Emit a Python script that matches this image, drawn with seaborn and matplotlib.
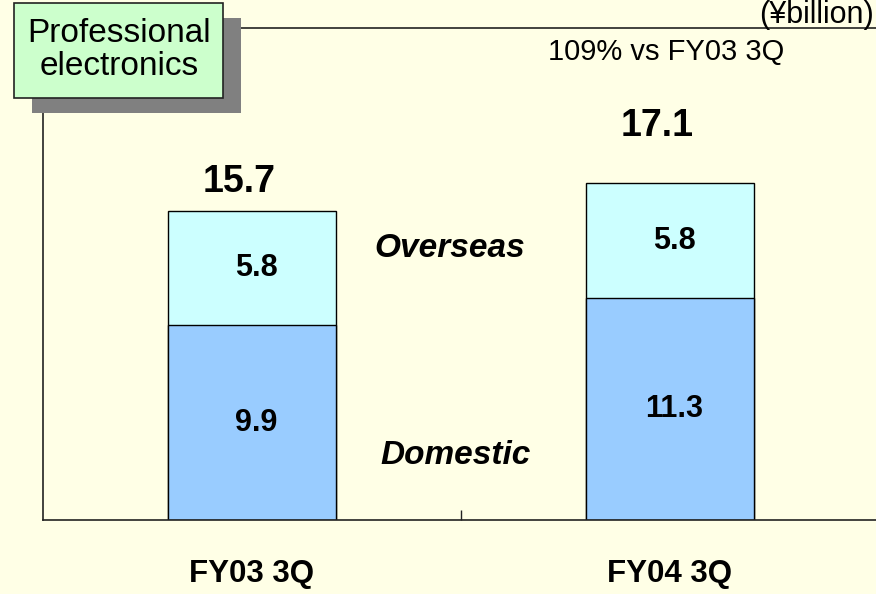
import numpy as np
import pandas as pd
import matplotlib
matplotlib.use("Agg")
import matplotlib.pyplot as plt
from matplotlib.patches import Rectangle
import seaborn as sns

# data
categories = ["FY03 3Q", "FY04 3Q"]
domestic = [9.9, 11.3]
overseas = [5.8, 5.8]
totals = [15.7, 17.1]
total_labels = ["15.7", "17.1"]
growth_note = "109% vs FY03 3Q"
unit_label = "(¥billion)"

sns.set_style("white")
plt.rcParams["font.family"] = ["Liberation Sans", "DejaVu Sans"]
plt.rcParams["text.color"] = "black"
plt.rcParams["xtick.color"] = "black"
plt.rcParams["xtick.labelcolor"] = "black"

bg = "#FFFFE6"
c_dom = "#99CCFF"
c_ovs = "#CCFFFF"

df = pd.DataFrame({"cat": categories, "dom": domestic, "ovs": overseas, "tot": totals})

fig = plt.figure(figsize=(8.76, 5.94), dpi=100, facecolor=bg)
ax = fig.add_axes([43/876, 74/594, 836/876, 492/594])
ax.set_facecolor(bg)

# total bar first (overseas colour), domestic on top of it
sns.barplot(data=df, x="cat", y="tot", color=c_ovs, width=0.4, edgecolor="black",
            linewidth=1.0, saturation=1, ax=ax)
sns.barplot(data=df, x="cat", y="dom", color=c_dom, width=0.4, edgecolor="black",
            linewidth=1.0, saturation=1, ax=ax)

ax.set_xlim(-0.5, 1.5)
ax.set_ylim(0, 25)
ax.set_xlabel("")
ax.set_ylabel("")
ax.set_yticks([])
ax.tick_params(axis="x", which="major", length=0, pad=28)
ax.set_xticks([0.5], minor=True)
ax.tick_params(axis="x", which="minor", bottom=True, direction="in", length=7,
               width=1, color="#222222")
for lab in ax.get_xticklabels():
    lab.set_fontsize(22.5)
    lab.set_fontweight("bold")

for s in ["left", "bottom", "top"]:
    ax.spines[s].set_color("#222222")
    ax.spines[s].set_linewidth(1.2)
ax.spines["right"].set_visible(False)

# labels inside segments
for i in range(len(categories)):
    ax.text(i + 0.01, domestic[i] / 2, f"{domestic[i]:.1f}", ha="center", va="center",
            fontsize=22, fontweight="bold")
    ax.text(i + 0.01, domestic[i] + overseas[i] / 2, f"{overseas[i]:.1f}", ha="center",
            va="center", fontsize=22, fontweight="bold")

# total labels (placed by hand in the original)
tot_offsets = [1.5, 2.9]
tot_dx = [-0.03, -0.03]
for i in range(len(categories)):
    ax.text(i + tot_dx[i], totals[i] + tot_offsets[i], total_labels[i], ha="center",
            va="center", fontsize=27, fontweight="bold")

ax.text(0.474, 13.8, "Overseas", ha="center", va="center", fontsize=24,
        fontweight="bold", style="italic")
ax.text(0.486, 3.3, "Domestic", ha="center", va="center", fontsize=24,
        fontweight="bold", style="italic")
ax.text(0.99, 23.8, growth_note, ha="center", va="center", fontsize=21)

fig.text(874/876, 1.0, unit_label, ha="right", va="top", fontsize=22)

# title box with shadow
shadow = Rectangle((32/876, 1 - 113/594), 209/876, 95/594, transform=fig.transFigure,
                   facecolor="#808080", edgecolor="none", zorder=5)
box = Rectangle((14/876, 1 - 98/594), 209/876, 95/594, transform=fig.transFigure,
                facecolor="#CCFFCC", edgecolor="#222222", linewidth=1.2, zorder=6)
fig.patches.extend([shadow, box])
fig.text(119/876, 1 - 50/594, "Professional\nelectronics", ha="center", va="center",
         fontsize=24, linespacing=1.1, zorder=7)

fig.savefig("out.png", dpi=100, facecolor=bg)
